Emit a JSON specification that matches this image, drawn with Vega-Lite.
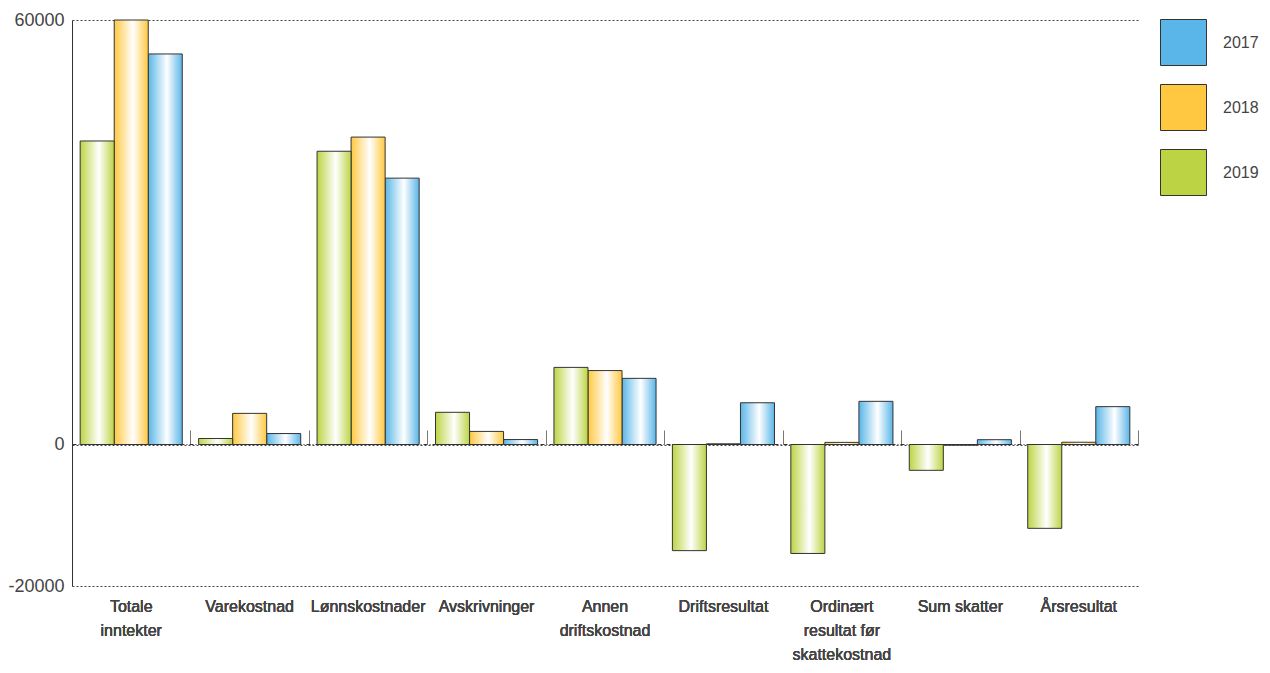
{
  "$schema": "https://vega.github.io/schema/vega-lite/v6.json",
  "width": 1066,
  "height": 566,
  "autosize": "none",
  "padding": {"left": 72, "top": 20, "right": 132, "bottom": 87},
  "background": "white",
  "config": {
    "font": "Liberation Sans",
    "view": {"stroke": null}
  },
  "data": {
    "values": [
      {"cat": "Totale|inntekter", "year": "2019", "value": 42900},
      {"cat": "Totale|inntekter", "year": "2018", "value": 60000},
      {"cat": "Totale|inntekter", "year": "2017", "value": 55200},
      {"cat": "Varekostnad", "year": "2019", "value": 850},
      {"cat": "Varekostnad", "year": "2018", "value": 4400},
      {"cat": "Varekostnad", "year": "2017", "value": 1550},
      {"cat": "Lønnskostnader", "year": "2019", "value": 41450},
      {"cat": "Lønnskostnader", "year": "2018", "value": 43450},
      {"cat": "Lønnskostnader", "year": "2017", "value": 37650},
      {"cat": "Avskrivninger", "year": "2019", "value": 4550},
      {"cat": "Avskrivninger", "year": "2018", "value": 1850},
      {"cat": "Avskrivninger", "year": "2017", "value": 700},
      {"cat": "Annen|driftskostnad", "year": "2019", "value": 10900},
      {"cat": "Annen|driftskostnad", "year": "2018", "value": 10450},
      {"cat": "Annen|driftskostnad", "year": "2017", "value": 9350},
      {"cat": "Driftsresultat", "year": "2019", "value": -15000},
      {"cat": "Driftsresultat", "year": "2018", "value": 100},
      {"cat": "Driftsresultat", "year": "2017", "value": 5900},
      {"cat": "Ordinært|resultat før|skattekostnad", "year": "2019", "value": -15400},
      {"cat": "Ordinært|resultat før|skattekostnad", "year": "2018", "value": 300},
      {"cat": "Ordinært|resultat før|skattekostnad", "year": "2017", "value": 6100},
      {"cat": "Sum skatter", "year": "2019", "value": -3650},
      {"cat": "Sum skatter", "year": "2018", "value": -100},
      {"cat": "Sum skatter", "year": "2017", "value": 680},
      {"cat": "Årsresultat", "year": "2019", "value": -11850},
      {"cat": "Årsresultat", "year": "2018", "value": 320},
      {"cat": "Årsresultat", "year": "2017", "value": 5350}
    ]
  },
  "encoding": {
    "x": {
      "field": "cat",
      "type": "nominal",
      "sort": null,
      "scale": {"paddingInner": 0, "paddingOuter": 0},
      "axis": {
        "title": null,
        "orient": "bottom",
        "domain": false,
        "ticks": false,
        "labelAngle": 0,
        "labelExpr": "split(datum.label, '|')",
        "labelFontSize": 16,
        "labelColor": "#444444",
        "labelPadding": 12,
        "labelBaseline": "top",
        "labelLineHeight": 24,
        "labelFont": "Liberation Sans"
      }
    },
    "xOffset": {"field": "year", "type": "nominal", "scale": {"domain": ["2019", "2018", "2017"], "paddingInner": 0, "paddingOuter": 0.24}},
    "y": {
      "field": "value",
      "type": "quantitative",
      "scale": {"domain": [-20000, 60000], "nice": false},
      "axis": {
        "title": null,
        "values": [-20000, 0, 60000],
        "labelExpr": "'' + datum.value",
        "domain": true,
        "domainColor": "#333333",
        "ticks": false,
        "labelFontSize": 18,
        "labelColor": "#444444",
        "labelPadding": 8,
        "labelFont": "Liberation Sans",
        "grid": true,
        "gridDash": [2, 2],
        "gridColor": "#444444",
        "gridWidth": 1
      }
    }
  },
  "layer": [
    {
      "mark": {"type": "bar", "opacity": 0},
      "encoding": {
        "color": {
          "field": "year",
          "type": "nominal",
          "scale": {"domain": ["2017", "2018", "2019"], "range": ["#5ab6e8", "#ffc840", "#bcd444"]},
          "legend": {
            "title": null,
            "orient": "none",
            "legendX": 1088,
            "legendY": -1,
            "symbolType": "square",
            "symbolSize": 2116,
            "symbolStrokeColor": "#333333",
            "symbolStrokeWidth": 1,
            "symbolOpacity": 1,
            "rowPadding": 14,
            "labelOffset": 16,
            "labelFontSize": 16,
            "labelColor": "#444444",
            "labelFont": "Liberation Sans",
            "encode": {
              "symbols": {
                "update": {
                  "fill": {"signal": "{gradient: 'linear', x1: 0, y1: 0, x2: 1, y2: 0, stops: [{offset: 0, color: datum.value === '2017' ? '#5ab6e8' : datum.value === '2018' ? '#ffc840' : '#bcd444'}, {offset: 0.55, color: '#ffffff'}, {offset: 1, color: datum.value === '2017' ? '#5ab6e8' : datum.value === '2018' ? '#ffc840' : '#bcd444'}]}"},
                  "stroke": {"value": "#333333"},
                  "strokeWidth": {"value": 1}
                }
              }
            }
          }
        }
      }
    },
    {
      "transform": [{"filter": "datum.year === '2017'"}],
      "mark": {"type": "bar", "stroke": "#333333", "strokeWidth": 1,
        "fill": {"gradient": "linear", "x1": 0, "y1": 0, "x2": 1, "y2": 0, "stops": [{"offset": 0, "color": "#5ab6e8"}, {"offset": 0.55, "color": "#ffffff"}, {"offset": 1, "color": "#5ab6e8"}]}}
    },
    {
      "transform": [{"filter": "datum.year === '2018'"}],
      "mark": {"type": "bar", "stroke": "#333333", "strokeWidth": 1,
        "fill": {"gradient": "linear", "x1": 0, "y1": 0, "x2": 1, "y2": 0, "stops": [{"offset": 0, "color": "#ffc840"}, {"offset": 0.55, "color": "#ffffff"}, {"offset": 1, "color": "#ffc840"}]}}
    },
    {
      "transform": [{"filter": "datum.year === '2019'"}],
      "mark": {"type": "bar", "stroke": "#333333", "strokeWidth": 1,
        "fill": {"gradient": "linear", "x1": 0, "y1": 0, "x2": 1, "y2": 0, "stops": [{"offset": 0, "color": "#bcd444"}, {"offset": 0.55, "color": "#ffffff"}, {"offset": 1, "color": "#bcd444"}]}}
    },
    {
      "mark": {"type": "rule", "opacity": 0},
      "encoding": {
        "y": null,
        "xOffset": null,
        "x": {
          "field": "cat",
          "type": "nominal",
          "sort": null,
          "axis": {
            "title": null,
            "orient": "bottom",
            "offset": -142,
            "labels": false,
            "grid": false,
            "domain": true,
            "domainColor": "#333333",
            "domainDash": [4, 2, 1, 2],
            "ticks": true,
            "tickBand": "extent",
            "tickSize": -14,
            "tickColor": "#777777",
            "tickWidth": 1
          }
        }
      }
    }
  ],
  "resolve": {"axis": {"x": "independent"}}
}
